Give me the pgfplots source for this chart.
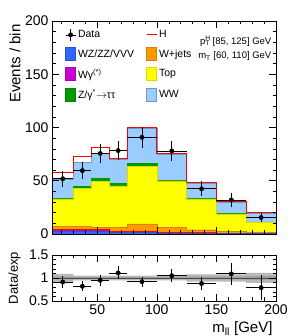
\documentclass[border=0pt]{standalone}
\usepackage{pgfplots}
\pgfplotsset{compat=1.18}
\usepackage{fontspec}
\setmainfont{Liberation Sans}
\definecolor{wwcol}{RGB}{153,204,255}
\definecolor{topcol}{RGB}{255,255,0}
\definecolor{dycol}{RGB}{0,153,0}
\definecolor{wjcol}{RGB}{255,153,0}
\definecolor{wgcol}{RGB}{204,0,204}
\definecolor{vvcol}{RGB}{51,102,255}
\definecolor{hcol}{RGB}{255,0,0}
\pgfplotsset{
  cmsaxis/.style={
    scale only axis, width=224pt, xmin=12, xmax=200,
    tick align=inside, major tick length=7pt, minor tick length=3.5pt,
    tick style={black, line width=0.5pt},
    axis line style={line width=0.7pt},
    xtick={50,100,150,200}, minor xtick={20,30,40,60,70,80,90,110,120,130,140,160,170,180,190},
    /pgf/number format/assume math mode=true,
    ticklabel style={font=\fontsize{14}{14}\selectfont},
    axis on top,
  },
  boxleg/.style={legend image code/.code={\draw[##1] (0pt,-6.5pt) rectangle (10pt,6.5pt);}},
}
\begin{document}
\begin{tikzpicture}
\path[use as bounding box] (-52pt,-102pt) rectangle (239pt,234pt);
\begin{axis}[cmsaxis, name=main, at={(0,0)}, anchor=south west, height=213pt,
  ymin=0, ymax=200, ytick={0,50,100,150,200},
  minor ytick={10,20,30,40,60,70,80,90,110,120,130,140,160,170,180,190},
  xticklabels={},
  ylabel={Events / bin},
  ylabel style={font=\fontsize{15}{15}\selectfont, at={(axis description cs:-0.125,1)}, anchor=south east},
  legend columns=2,
  legend cell align=left,
  legend style={draw=none, fill=none, at={(0.045,0.975)}, anchor=north west,
    font=\fontsize{10.5}{12}\selectfont,
    /tikz/every even column/.append style={column sep=10pt},
    row sep=6pt},
]
% stacked (cumulative) backgrounds
\addplot[const plot, fill=wwcol, draw=wwcol!75!black, line width=0.4pt, forget plot] coordinates {(12,51.6)(30,67)(45,75.5)(60,70)(75,99.3)(100,75)(125,48)(150,29.7)(175,19.6)(200,19.6)} \closedcycle;
\addplot[const plot, fill=dycol, draw=dycol, forget plot] coordinates {(12,33.3)(30,44.6)(45,52.2)(60,47.8)(75,66.2)(100,50.2)(125,33.2)(150,19.2)(175,11.1)(200,11.1)} \closedcycle;
\addplot[const plot, fill=topcol, draw=topcol!85!black, line width=0.3pt, forget plot] coordinates {(12,33.0)(30,42.7)(45,49.3)(60,45.3)(75,63.6)(100,49.8)(125,33.0)(150,19.0)(175,11.0)(200,11.0)} \closedcycle;
\addplot[const plot, fill=wjcol, draw=wjcol!85!black, line width=0.3pt, forget plot] coordinates {(12,7.0)(30,7.5)(45,6.5)(60,6.0)(75,9.5)(100,6.0)(125,4.0)(150,2.8)(175,2.0)(200,2.0)} \closedcycle;
\addplot[const plot, fill=wgcol, draw=hcol, line width=0.5pt, forget plot] coordinates {(12,4.5)(30,4.5)(45,4.0)(60,2.5)(75,2.5)(100,1.5)(125,1.2)(150,0.8)(175,0.7)(200,0.7)} \closedcycle;
\addplot[const plot, fill=vvcol, draw=vvcol!80!black, line width=0.3pt, forget plot] coordinates {(12,2.5)(30,2.5)(45,2.5)(60,1.5)(75,1.5)(100,1.0)(125,0.8)(150,0.5)(175,0.5)(200,0.5)} \closedcycle;
% H on top of stack
\addplot[const plot, draw=hcol, line width=1pt, forget plot] coordinates {(12,57.5)(30,73)(45,81)(60,70.8)(75,99.8)(100,75.5)(125,48.5)(150,30.3)(175,20.2)(200,20.2)};
% data
\addplot[only marks, mark=*, mark size=2.2pt, black, forget plot,
  error bars/.cd, x dir=both, x explicit, y dir=both, y explicit, error mark=none,
  error bar style={line width=0.8pt, black}]
  coordinates {
  (21,51.9) +- (9,7.5)
  (37.5,59.5) +- (7.5,8)
  (52.5,75.7) +- (7.5,9)
  (67.5,78.3) +- (7.5,9)
  (87.5,90.8) +- (12.5,10)
  (112.5,78) +- (12.5,9.5)
  (137.5,42.4) +- (12.5,7)
  (162.5,32) +- (12.5,6.3)
  (187.5,15.5) +- (12.5,4.5)
  };
% legend
\addlegendimage{legend image code/.code={\draw[black, line width=0.8pt] (0pt,0pt)--(10pt,0pt) (5pt,-6pt)--(5pt,6pt); \fill[black] (5pt,0pt) circle (2.2pt);}}
\addlegendentry{Data}
\addlegendimage{legend image code/.code={\draw[hcol, line width=1pt] (0pt,0pt)--(10pt,0pt);}}
\addlegendentry{H}
\addlegendimage{boxleg, fill=vvcol, draw=vvcol!80!black}
\addlegendentry{WZ/ZZ/VVV}
\addlegendimage{boxleg, fill=wjcol, draw=wjcol!85!black}
\addlegendentry{W+jets}
\addlegendimage{boxleg, fill=wgcol, draw=wgcol!85!black}
\addlegendentry{Wγ\textsuperscript{(*)}}
\addlegendimage{boxleg, fill=topcol, draw=topcol!85!black}
\addlegendentry{Top}
\addlegendimage{boxleg, fill=dycol, draw=dycol!85!black}
\addlegendentry{Z/γ\textsuperscript{*}$\rightarrow$ττ}
\addlegendimage{boxleg, fill=wwcol, draw=wwcol!75!black}
\addlegendentry{WW}
\node[anchor=east, font=\fontsize{9.5}{11}\selectfont, inner sep=0pt] at (rel axis cs:0.98,0.905) {p\rlap{\textsuperscript{H}}\textsubscript{T} [85, 125] GeV};
\node[anchor=east, font=\fontsize{9.5}{11}\selectfont, inner sep=0pt] at (rel axis cs:0.98,0.835) {m\textsubscript{T} [60, 110] GeV};
\node[anchor=south west, font=\fontsize{13}{13}\bfseries, inner sep=0pt] at (rel axis cs:0,1.02) {CMS};
\node[anchor=south east, font=\fontsize{9}{9}\selectfont, inner sep=0pt] at (rel axis cs:1,1.025) {19.4 fb\textsuperscript{−1} (8 TeV)};
\end{axis}
\begin{axis}[cmsaxis, name=ratio, at={(0,-21pt)}, anchor=north west, height=46pt,
  ymin=0.5, ymax=1.5, ytick={0.5,1,1.5}, yticklabels={0.5,1,1.5},
  minor ytick={0.6,0.7,0.8,0.9,1.1,1.2,1.3,1.4},
  xticklabels={50,100,150,200},
  ylabel={Data/exp},
  ylabel style={font=\fontsize{13}{13}\selectfont, at={(axis description cs:-0.125,0.5)}, anchor=south},
  xlabel={m\textsubscript{ll} [GeV]},
  xlabel style={font=\fontsize{15}{15}\selectfont, at={(axis description cs:1,0)}, anchor=north east, yshift=-17pt},
]
% uncertainty bands, layered from the top down
\addplot[const plot, fill=gray!55, draw=none, forget plot] coordinates {(12,1.09)(30,1.05)(45,1.05)(60,1.05)(75,1.05)(100,1.05)(125,1.08)(150,1.08)(175,1.11)(200,1.11)} \closedcycle;
\addplot[const plot, fill=gray!75, draw=none, forget plot] coordinates {(12,1.03)(30,1.02)(45,1.02)(60,1.02)(75,1.02)(100,1.02)(125,1.03)(150,1.03)(175,1.04)(200,1.04)} \closedcycle;
\addplot[const plot, fill=gray!55, draw=none, forget plot] coordinates {(12,0.97)(30,0.98)(45,0.98)(60,0.98)(75,0.98)(100,0.98)(125,0.97)(150,0.97)(175,0.96)(200,0.96)} \closedcycle;
\addplot[const plot, fill=white, draw=none, forget plot] coordinates {(12,0.91)(30,0.95)(45,0.95)(60,0.95)(75,0.95)(100,0.95)(125,0.92)(150,0.92)(175,0.89)(200,0.89)} \closedcycle;
\addplot[black!70, line width=0.6pt, forget plot] coordinates {(12,1)(200,1)};
\addplot[only marks, mark=*, mark size=2.2pt, black, forget plot,
  error bars/.cd, x dir=both, x explicit, y dir=both, y explicit, error mark=none,
  error bar style={line width=0.8pt, black}]
  coordinates {
  (21,0.913) +- (9,0.13)
  (37.5,0.82) +- (7.5,0.11)
  (52.5,0.95) +- (7.5,0.12)
  (67.5,1.11) +- (7.5,0.14)
  (87.5,0.92) +- (12.5,0.11)
  (112.5,1.05) +- (12.5,0.14)
  (137.5,0.88) +- (12.5,0.15)
  (162.5,1.09) +- (12.5,0.24)
  (187.5,0.79) +- (12.5,0.27)
  };
\end{axis}
\end{tikzpicture}
\end{document}
